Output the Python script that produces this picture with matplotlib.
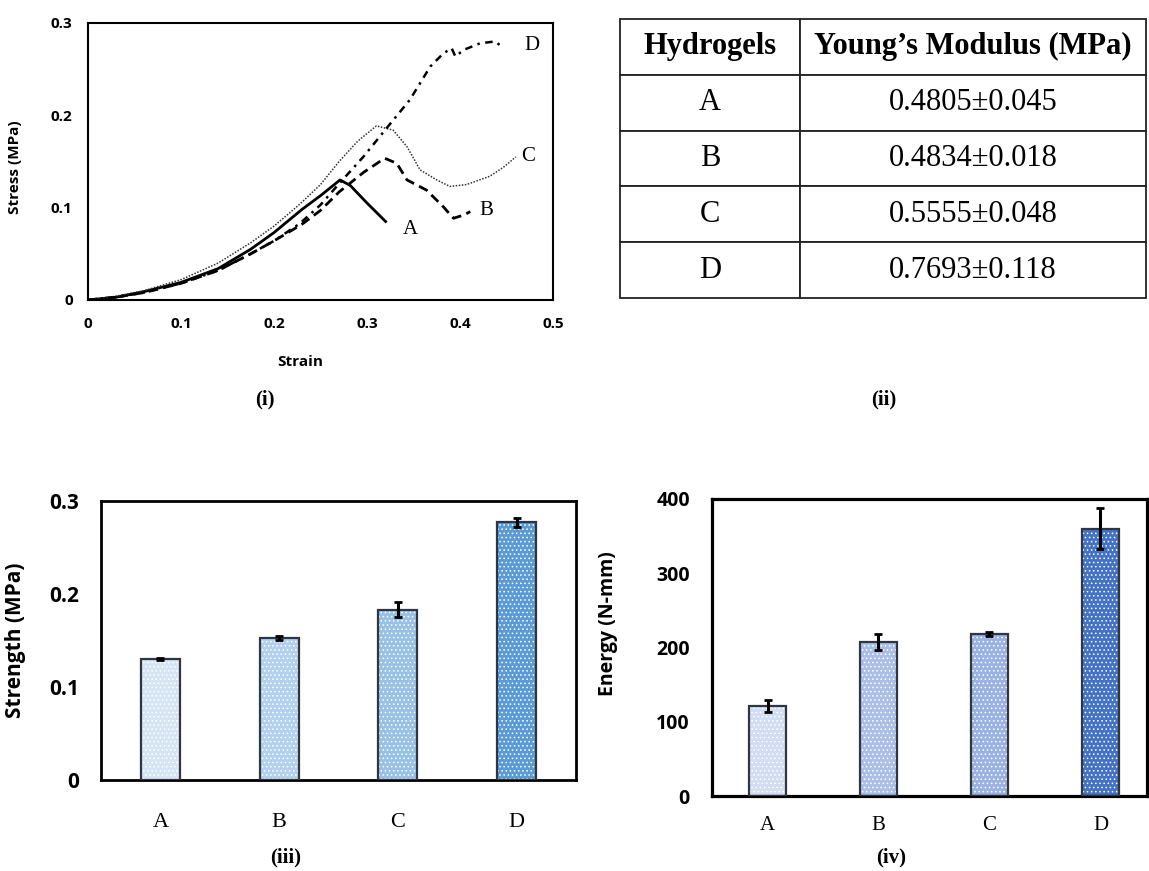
import numpy as np
import matplotlib
matplotlib.use("Agg")
import matplotlib.pyplot as plt

SANS = ["Open Sans", "DejaVu Sans"]
SERIF = ["Liberation Serif", "DejaVu Serif"]

# stress-strain curves (strain, stress MPa)
a_strain = [0, 0.03, 0.06, 0.10, 0.14, 0.175, 0.20, 0.23, 0.25, 0.271, 0.282, 0.30, 0.32]
a_stress = [0, 0.003, 0.009, 0.019, 0.034, 0.055, 0.073, 0.098, 0.113, 0.130, 0.124, 0.105, 0.085]

b_strain = [0, 0.03, 0.06, 0.10, 0.14, 0.175, 0.20, 0.23, 0.25, 0.27, 0.296, 0.319, 0.332,
            0.343, 0.364, 0.382, 0.393, 0.404, 0.411]
b_stress = [0, 0.003, 0.008, 0.018, 0.032, 0.050, 0.064, 0.082, 0.097, 0.117, 0.138, 0.1535, 0.148,
            0.130, 0.119, 0.101, 0.0885, 0.092, 0.0957]

c_strain = [0, 0.03, 0.06, 0.10, 0.14, 0.175, 0.20, 0.228, 0.25, 0.27, 0.29, 0.31, 0.328, 0.343,
            0.357, 0.375, 0.389, 0.407, 0.432, 0.447, 0.46]
c_stress = [0, 0.004, 0.010, 0.022, 0.040, 0.062, 0.080, 0.104, 0.125, 0.150, 0.172, 0.1885, 0.184, 0.166,
            0.141, 0.130, 0.123, 0.125, 0.134, 0.144, 0.155]

d_strain = [0, 0.03, 0.06, 0.10, 0.14, 0.175, 0.20, 0.228, 0.25, 0.27, 0.296, 0.321, 0.346, 0.368,
            0.382, 0.391, 0.395, 0.404, 0.4215, 0.4376, 0.443]
d_stress = [0, 0.003, 0.008, 0.018, 0.032, 0.050, 0.064, 0.083, 0.103, 0.126, 0.155, 0.186, 0.2167, 0.2528,
            0.267, 0.2727, 0.2637, 0.2709, 0.278, 0.280, 0.276]

# table (ii)
table_header = ["Hydrogels", "Young\u2019s Modulus (MPa)"]
hydrogels = ["A", "B", "C", "D"]
modulus = ["0.4805\u00b10.045", "0.4834\u00b10.018", "0.5555\u00b10.048", "0.7693\u00b10.118"]

# bars (iii) and (iv)
strength = [0.130, 0.153, 0.183, 0.277]
strength_err = [0.001, 0.002, 0.008, 0.005]
energy = [121, 207, 218, 360]
energy_err = [8, 11, 3, 28]

strength_colors = ["#d6e5f4", "#b3d1ef", "#99c1e6", "#5b9bd5"]
energy_colors = ["#d2ddf2", "#aabee6", "#9ab2e2", "#4472c4"]

fig = plt.figure(figsize=(11.49, 8.71), dpi=100)

# ---------- (i) stress-strain ----------
ax1 = fig.add_axes([0.0766, 0.6556, 0.4047, 0.318])
ax1.plot(a_strain, a_stress, color="black", lw=2.0, ls="-")
ax1.plot(b_strain, b_stress, color="black", lw=2.0, ls=(0, (3.5, 2)))
ax1.plot(c_strain, c_stress, color="#333333", lw=1.1, ls=(0, (1, 1)))
ax1.plot(d_strain, d_stress, color="black", lw=1.8, ls=(0, (3, 2.2, 1, 2.2)))
for lab, x, y in [("A", a_strain[-1], a_stress[-1]), ("B", b_strain[-1], b_stress[-1]),
                  ("C", c_strain[-1], c_stress[-1]), ("D", d_strain[-1], d_stress[-1])]:
    dx = {"A": 0.018, "B": 0.010, "C": 0.006, "D": 0.026}[lab]
    dy = {"A": -0.009, "B": 0.001, "C": 0.0, "D": 0.0}[lab]
    ax1.text(x + dx, y + dy, lab, family=SERIF, fontsize=15, va="center", ha="left")
ax1.set_xlim(0, 0.5)
ax1.set_ylim(0, 0.3)
ax1.set_xticks([0, 0.1, 0.2, 0.3, 0.4, 0.5])
ax1.set_xticklabels(["0", "0.1", "0.2", "0.3", "0.4", "0.5"])
ax1.set_yticks([0, 0.1, 0.2, 0.3])
ax1.set_yticklabels(["0", "0.1", "0.2", "0.3"])
ax1.tick_params(length=0, labelsize=11)
ax1.tick_params(axis="y", pad=11)
ax1.tick_params(axis="x", pad=12)
for t in ax1.get_xticklabels() + ax1.get_yticklabels():
    t.set_family(SANS)
    t.set_fontweight("bold")
for s in ax1.spines.values():
    s.set_linewidth(1.5)
ax1.set_ylabel("Stress (MPa)", family=SANS, fontweight="bold", fontsize=11)
ax1.yaxis.set_label_coords(-0.142, 0.48)
ax1.set_xlabel("Strain", family=SANS, fontweight="bold", fontsize=11)
ax1.xaxis.set_label_coords(0.456, -0.2)

# ---------- (ii) table ----------
ax2 = fig.add_axes([0.5396, 0.6579, 0.4578, 0.3203])
ax2.axis("off")
cells = [[h, m] for h, m in zip(hydrogels, modulus)]
tab = ax2.table(cellText=cells, colLabels=table_header, colWidths=[0.342, 0.658],
                cellLoc="center", bbox=[0, 0, 1, 1])
tab.auto_set_font_size(False)
for (r, c), cell in tab.get_celld().items():
    cell.set_linewidth(1.3)
    cell.set_edgecolor("#222222")
    txt = cell.get_text()
    txt.set_family(SERIF)
    txt.set_fontsize(22)
    if r == 0:
        txt.set_fontweight("bold")

# ---------- bar chart helper ----------
def bar_panel(ax, vals, errs, colors, ylim, yticks, ylabel, xpad, ylabel_fs, tick_fs, spine_w):
    x = np.arange(len(hydrogels))
    ax.bar(x, vals, width=0.33, color=colors, edgecolor="white", lw=0, hatch="....", zorder=2)
    ax.bar(x, vals, width=0.33, color="none", edgecolor="#2f3640", lw=1.6, zorder=3)
    ax.errorbar(x, vals, yerr=errs, fmt="none", ecolor="black", elinewidth=2.2, capsize=3,
                capthick=2, zorder=4)
    ax.set_ylim(*ylim)
    ax.set_yticks(yticks)
    ax.set_yticklabels([f"{v:g}" for v in yticks])
    ax.set_xticks(x)
    ax.set_xticklabels(hydrogels)
    ax.tick_params(length=0)
    ax.tick_params(axis="y", pad=16, labelsize=tick_fs)
    ax.tick_params(axis="x", pad=xpad, labelsize=16)
    for t in ax.get_yticklabels():
        t.set_family(SANS)
        t.set_fontweight("bold")
    for t in ax.get_xticklabels():
        t.set_family(SERIF)
    for s in ax.spines.values():
        s.set_linewidth(spine_w)
    ax.set_ylabel(ylabel, family=SANS, fontweight="bold", fontsize=ylabel_fs)

plt.rcParams["hatch.linewidth"] = 0.6

# ---------- (iii) strength ----------
ax3 = fig.add_axes([0.0879, 0.1045, 0.4134, 0.3203])
bar_panel(ax3, strength, strength_err, strength_colors, (0, 0.3), [0, 0.1, 0.2, 0.3],
          "Strength (MPa)", 24, 15, 15, 2.0)
ax3.set_xlim(-0.5, 3.5)
ax3.yaxis.set_label_coords(-0.158, 0.5)

# ---------- (iv) energy ----------
ax4 = fig.add_axes([0.6197, 0.0861, 0.3786, 0.341])
bar_panel(ax4, energy, energy_err, energy_colors, (0, 400), [0, 100, 200, 300, 400],
          "Energy (N-mm)", 14.5, 14, 14, 2.3)
ax4.set_xlim(-0.5, 3.42)
ax4.tick_params(axis="x", labelsize=15)
ax4.yaxis.set_label_coords(-0.216, 0.58)

# captions
for lab, x, y in [("(i)", 0.2306, 0.5408), ("(ii)", 0.769, 0.5408),
                  ("(iii)", 0.249, 0.016), ("(iv)", 0.776, 0.016)]:
    fig.text(x, y, lab, family=SERIF, fontweight="bold", fontsize=15, ha="center", va="center")

fig.savefig("out.png", dpi=100)
